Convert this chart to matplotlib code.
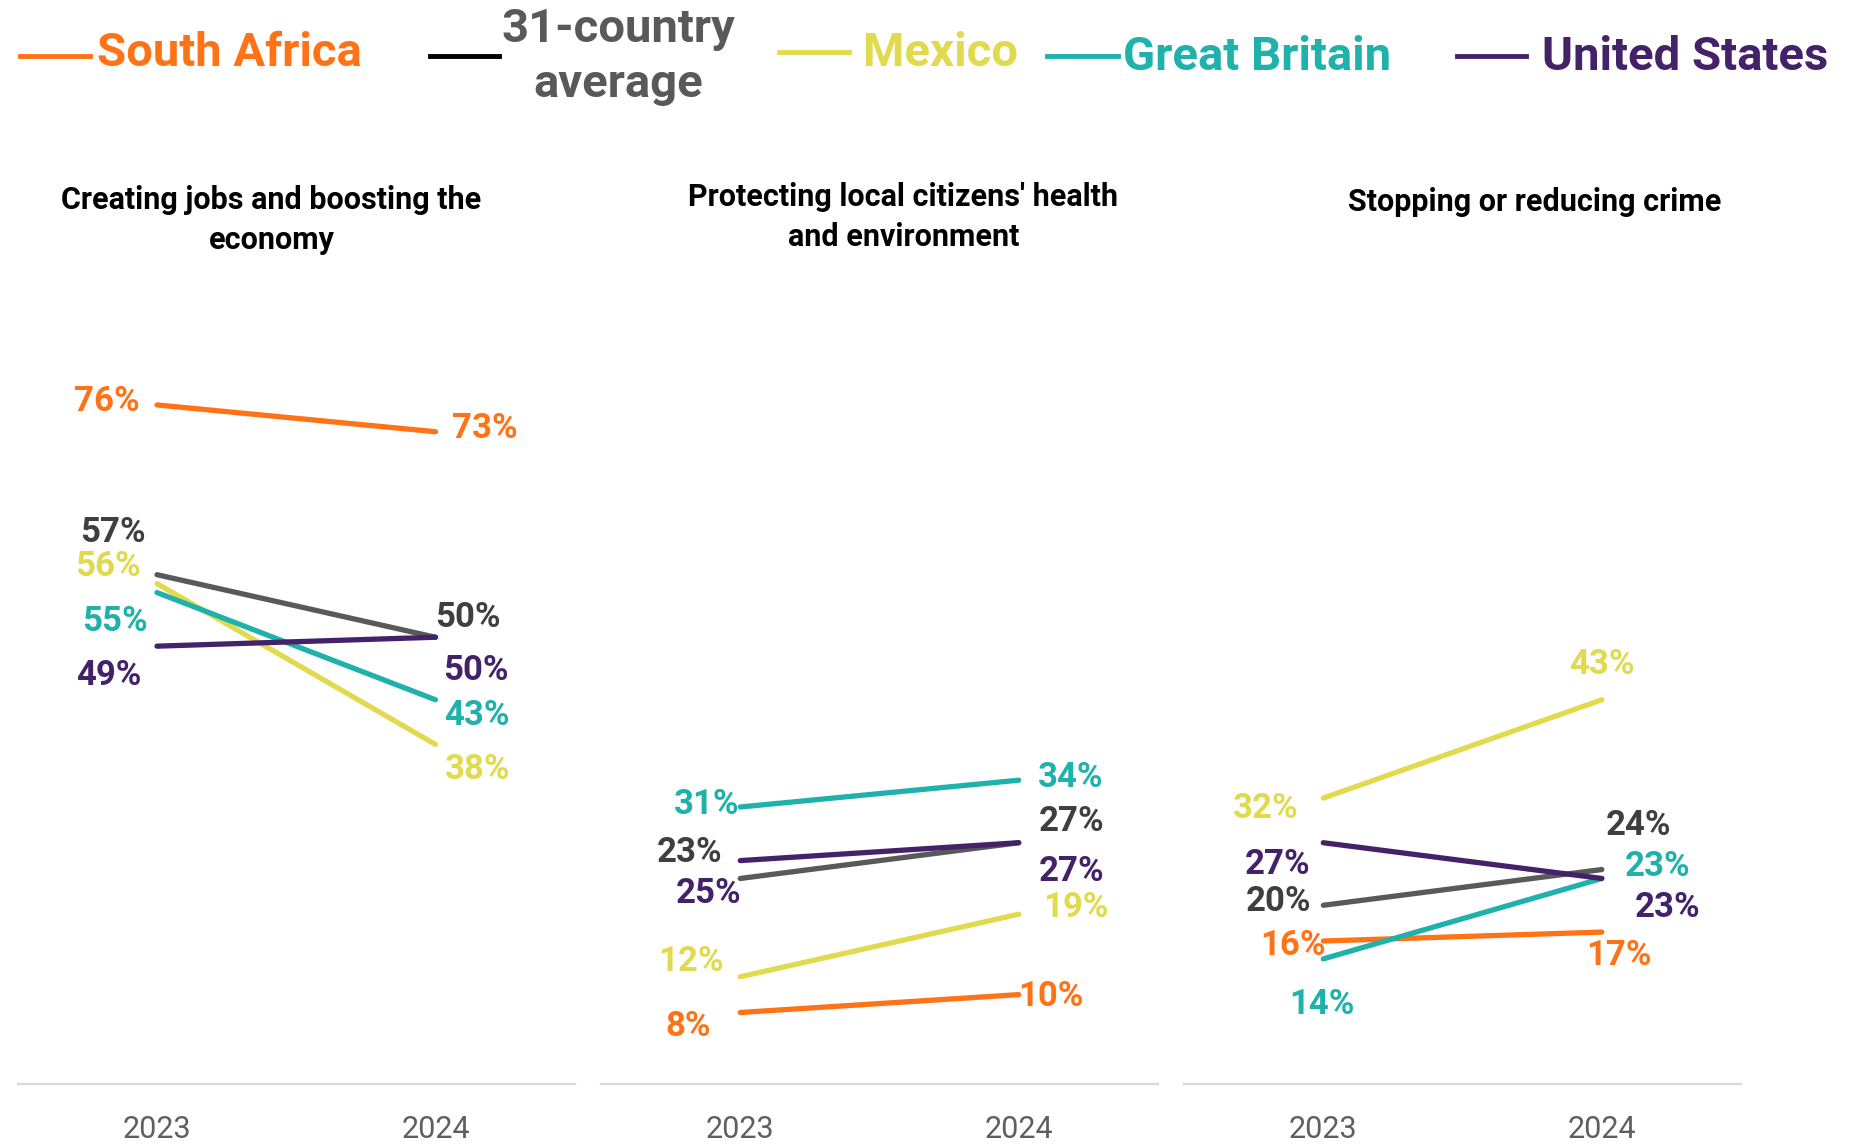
import matplotlib
matplotlib.use('Agg')
import matplotlib.pyplot as plt
from matplotlib.lines import Line2D

plt.rcParams['font.family'] = ['Roboto', 'DejaVu Sans']

# Series order used by every list below
countries = ['South Africa', '31-country average', 'Mexico', 'Great Britain', 'United States']
line_colors = ['#FF7316', '#595959', '#E2DA4E', '#1FB1AC', '#44226A']
text_colors = ['#FF7316', '#3F3F3F', '#E2DA4E', '#1FB1AC', '#44226A']
years = ['2023', '2024']

titles = ['Creating jobs and boosting the\neconomy',
          "Protecting local citizens' health\nand environment",
          'Stopping or reducing crime']

# share of people (%) per country, 2023 and 2024
jobs_2023 = [76, 57, 56, 55, 49]
jobs_2024 = [73, 50, 38, 43, 50]
health_2023 = [8, 23, 12, 31, 25]
health_2024 = [10, 27, 19, 34, 27]
crime_2023 = [16, 20, 32, 14, 27]
crime_2024 = [17, 24, 43, 23, 23]

panels = [(jobs_2023, jobs_2024), (health_2023, health_2024), (crime_2023, crime_2024)]

# label offsets in points from each end point (hand placed to avoid overlaps)
offsets = [
    ([(-36.5, 2.5), (-32, 30.5), (-35.5, 12), (-30, -20.5), (-35, -21)],
     [(35.5, 2), (23, 14.5), (30, -18), (30, -11), (29, -24)]),
    ([(-37.5, -10), (-36.5, 18.5), (-35.5, 11), (-24.5, 2), (-23, -24)],
     [(23, -1), (38, 15.5), (41, 5), (37.5, 2), (38, -20.5)]),
    ([(-22, -3.5), (-32, 2.5), (-41.5, -7.5), (-1, -32.5), (-33, -15.5)],
     [(12, -17), (26.5, 31.5), (0, 25.5), (40, 8.5), (47, -21)]),
]

fig = plt.figure(figsize=(18.51, 11.45), dpi=100)

ax_lefts = [0.0096, 0.3247, 0.6397]
title_pos = [(0.1467, 0.8080), (0.4880, 0.8105), (0.8290, 0.8235)]

for i, (v23, v24) in enumerate(panels):
    ax = fig.add_axes([ax_lefts[i], 0.0533, 0.3009, 0.7023])
    for j in range(len(countries)):
        ax.plot([0, 1], [v23[j], v24[j]], color=line_colors[j], lw=3.8,
                solid_capstyle='round', clip_on=False)
        for x, v, off in ((0, v23[j], offsets[i][0][j]), (1, v24[j], offsets[i][1][j])):
            ax.annotate(f'{v}%', (x, v), xytext=off, textcoords='offset points',
                        ha='center', va='center', fontsize=25, fontweight='bold',
                        color=text_colors[j])
    ax.set_xlim(-0.5, 1.5)
    ax.set_ylim(0, 90)
    ax.set_xticks([0, 1])
    ax.set_xticklabels(years)
    ax.set_yticks([])
    for s in ['top', 'left', 'right']:
        ax.spines[s].set_visible(False)
    ax.spines['bottom'].set_color('#D9D9D9')
    ax.spines['bottom'].set_linewidth(1.7)
    ax.tick_params(axis='x', length=0, pad=22, labelsize=22, labelcolor='#5F5F5F')
    fig.text(title_pos[i][0], title_pos[i][1], titles[i], ha='center', va='center',
             fontsize=22, fontweight='bold', color='black', linespacing=1.4)

# legend drawn by hand across the top
legend_lines = [(0.0108, 0.0486, 0.9515), (0.2321, 0.2698, 0.9515), (0.4209, 0.4585, 0.9546),
                (0.5657, 0.6040, 0.9515), (0.7870, 0.8246, 0.9515)]
legend_line_colors = ['#FF7316', '#000000', '#E2DA4E', '#1FB1AC', '#44226A']
for (x0, x1, y), c in zip(legend_lines, legend_line_colors):
    fig.add_artist(Line2D([x0, x1], [y, y], color=c, lw=3.5, transform=fig.transFigure))

legend_texts = [('South Africa', 0.0523, 0.9538, 'left', '#FF7316'),
                ('31-country\naverage', 0.3342, 0.9505, 'center', '#595959'),
                ('Mexico', 0.4662, 0.9538, 'left', '#E2DA4E'),
                ('Great Britain', 0.6065, 0.9503, 'left', '#1FB1AC'),
                ('United States', 0.8329, 0.9503, 'left', '#44226A')]
for txt, x, y, ha, c in legend_texts:
    fig.text(x, y, txt, ha=ha, va='center', fontsize=34, fontweight='bold',
             color=c, linespacing=1.3)

fig.savefig('out.png', dpi=100)
